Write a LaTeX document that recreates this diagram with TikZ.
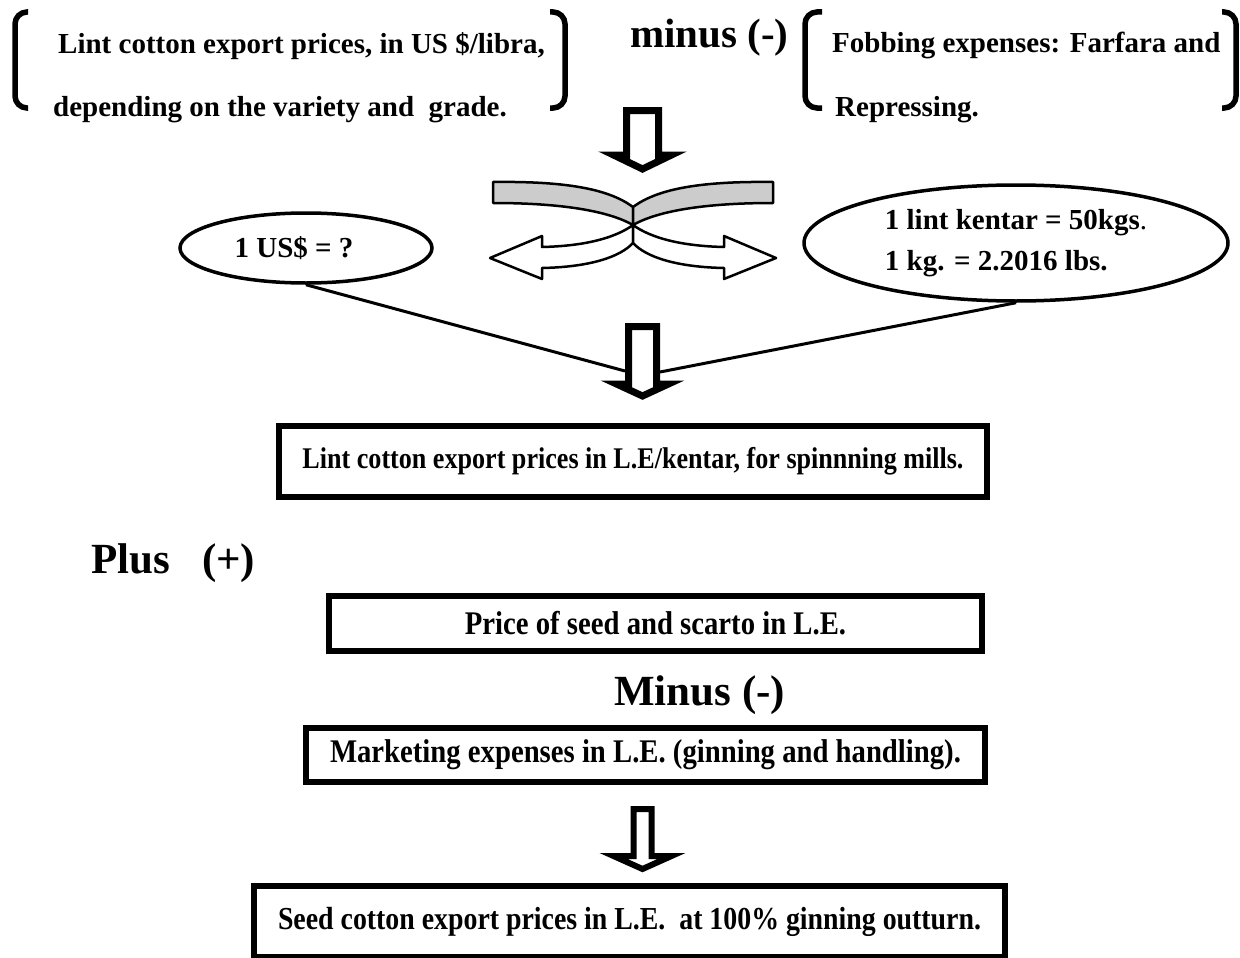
\documentclass[tikz,border=0pt]{standalone}
\usepackage{fontspec}
\setmainfont{Liberation Serif}
\newfontfamily\narrowfont{Liberation Serif}[FakeStretch=0.87]
\usetikzlibrary{shapes.geometric}
\definecolor{bandgray}{gray}{0.8}

\begin{document}
\begin{tikzpicture}[x=1pt,y=-1pt,
	lbl/.style={inner sep=0pt, font=\fontsize{29}{35}\selectfont\bfseries},
	sign/.style={inner sep=0pt, font=\fontsize{43}{50}\selectfont\bfseries},
	box/.style={draw, line width=6pt, inner sep=0pt, font=\fontsize{33}{38}\selectfont\narrowfont\bfseries},
	oval/.style={ellipse, draw, line width=3.5pt, inner sep=0pt, font=\fontsize{29}{41}\selectfont\bfseries},
	link/.style={line width=3pt},
	hollow/.style={draw, fill=white, line width=7pt, line join=miter},
	band/.style={draw, line width=2.5pt, line join=round},
	brace/.style={line width=5.5pt, rounded corners=12pt}]
				\useasboundingbox (0,0) rectangle (1240,958);
				
				% top row
				\draw[brace] (28,12) -- (15,12) -- (15,108) -- (28,108);
				\draw[brace] (550,12) -- (565,12) -- (565,108) -- (550,108);
				\draw[brace] (822,12) -- (805,12) -- (805,108) -- (822,108);
				\draw[brace] (1222,12) -- (1236,12) -- (1236,108) -- (1222,108);
				\node[lbl, anchor=base west] (lintA) at (58,54) {Lint cotton export prices, in US \$/libra,};
				\node[lbl, anchor=base west] (lintB) at (53,117) {depending on the variety and \ grade.};
				\node[sign, anchor=base west, font=\fontsize{41}{48}\selectfont\bfseries] (minusA) at (630,48) {minus (-)};
				\node[lbl, anchor=base west] (fobA) at (832,53) {Fobbing expenses: Farfara and};
				\node[lbl, anchor=base west] (fobB) at (835,117) {Repressing.};
				
				% first hollow arrow
				\draw[hollow] (626.5,110.5) -- (658.5,110.5) -- (658.5,155) -- (671.5,155) -- (642.5,169) -- (613.5,155) -- (626.5,155) -- cycle;
				
				% split arrow
				\draw[band, fill=white] (633,225) .. controls (615,238) and (585,246) .. (542,247) -- (542,236) -- (490,258) -- (542,279) -- (542,268) .. controls (590,267) and (620,257) .. (633,243) -- cycle;
				\draw[band, fill=white] (633,225) .. controls (651,238) and (681,246) .. (724,247) -- (724,236) -- (776,258) -- (724,279) -- (724,268) .. controls (676,267) and (646,257) .. (633,243) -- cycle;
				\draw[band, fill=bandgray] (493,182) .. controls (570,181) and (610,190) .. (633,207) -- (633,225) .. controls (612,213) and (570,203) .. (493,203) -- cycle;
				\draw[band, fill=bandgray] (773,182) .. controls (696,181) and (656,190) .. (633,207) -- (633,225) .. controls (654,213) and (696,203) .. (773,203) -- cycle;
				
				% conversion ovals
				\node[oval, minimum width=252pt, minimum height=70pt] (usd) at (306,248) {1 US\$ = ?\hspace*{24pt}};
				\node[oval, minimum width=424pt, minimum height=116pt, align=left] (kentar) at (1016,243) {1 lint kentar = 50kgs{\mdseries .}\\1 kg. = 2.2016 lbs.};
				
				\coordinate (a2l) at (625,371);
				\coordinate (a2r) at (660,372);
				\draw[link] (usd.south) -- (a2l);
				\draw[link] (kentar.south) -- (a2r);
				\draw[hollow] (628.5,326.5) -- (656.5,326.5) -- (656.5,384) -- (668.5,384) -- (642.5,396) -- (616.5,384) -- (628.5,384) -- cycle;
				
				% boxes
				\node[box, anchor=north west, minimum width=708pt, minimum height=71pt, font=\fontsize{30}{36}\selectfont\narrowfont\bfseries] (lintbox) at (276,423) {Lint cotton export prices in L.E/kentar, for spinnning mills.};
				\node[sign, anchor=base west] (plus) at (91,573) {Plus\hspace{32pt}(+)};
				\node[box, anchor=north west, minimum width=653pt, minimum height=55pt] (seedbox) at (326,593) {Price of seed and scarto in L.E.};
				\node[sign, anchor=base west] (minusB) at (614,705) {Minus (-)};
				\node[box, anchor=north west, minimum width=679pt, minimum height=54pt] (mktbox) at (303,725) {Marketing expenses in L.E. (ginning and handling).};
				\draw[hollow, line width=6pt] (633.5,809) -- (651.5,809) -- (651.5,856) -- (671.5,856) -- (642.5,869) -- (613.5,856) -- (633.5,856) -- cycle;
				\node[box, anchor=north west, minimum width=751pt, minimum height=71pt, font=\fontsize{32}{38}\selectfont\narrowfont\bfseries] (outbox) at (251,883) {Seed cotton export prices in L.E. \ at 100\% ginning outturn.};
			\end{tikzpicture}
\end{document}
